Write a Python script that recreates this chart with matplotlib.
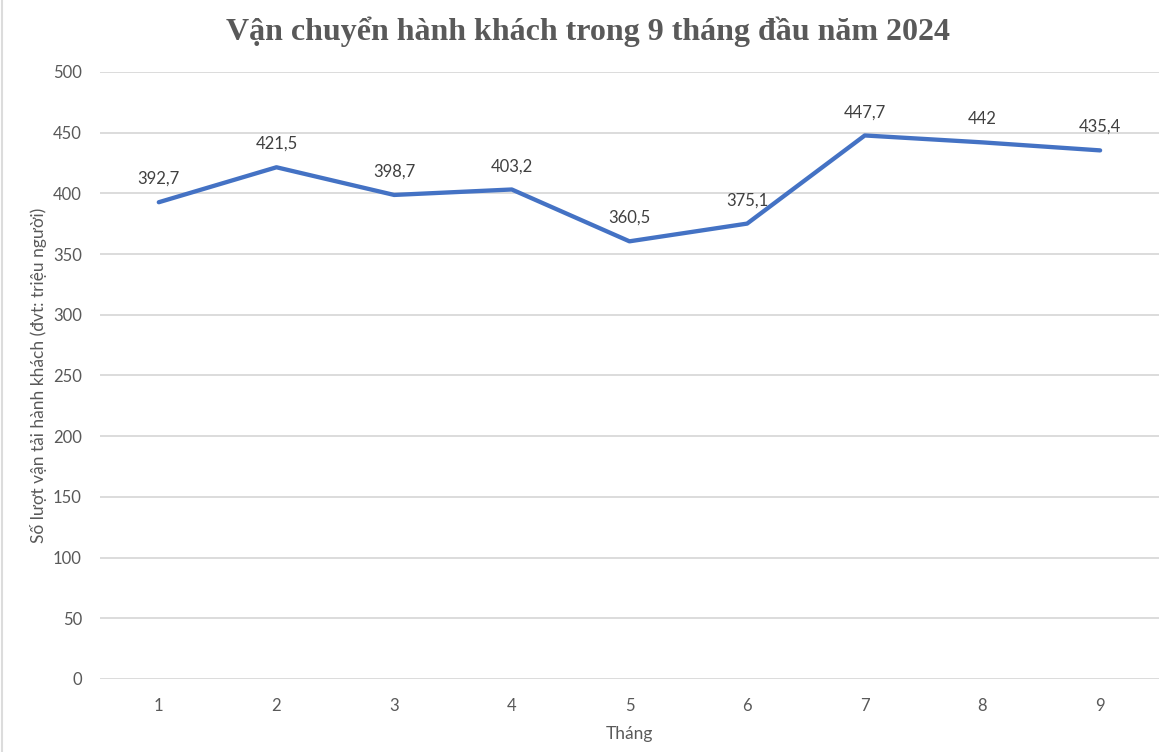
import matplotlib.pyplot as plt
from matplotlib.lines import Line2D

# Data
months = [1, 2, 3, 4, 5, 6, 7, 8, 9]
passengers = [392.7, 421.5, 398.7, 403.2, 360.5, 375.1, 447.7, 442, 435.4]
value_labels = ["392,7", "421,5", "398,7", "403,2", "360,5", "375,1", "447,7", "442", "435,4"]
y_ticks = [0, 50, 100, 150, 200, 250, 300, 350, 400, 450, 500]

text_color = '#595959'
plt.rcParams['font.family'] = ['Lato', 'DejaVu Sans']

fig = plt.figure(figsize=(11.76, 7.52), dpi=100)
ax = fig.add_axes([0.085, 0.0971, 0.9005, 0.8072])

ax.plot(months, passengers, color='#4472C4', linewidth=3.1, solid_capstyle='round',
        solid_joinstyle='round', zorder=3)

# Data labels above each point
for m, v, lab in zip(months, passengers, value_labels):
    ax.annotate(lab, (m, v), xytext=(0, 11), textcoords='offset points',
                ha='center', va='bottom', fontsize=12, color='#404040')

ax.set_xlim(0.5, 9.5)
ax.set_ylim(0, 500)
ax.set_xticks(months)
ax.set_yticks(y_ticks)
ax.grid(axis='y', color='#d9d9d9', linewidth=1.3)
ax.set_axisbelow(True)
for s in ax.spines.values():
    s.set_visible(False)
ax.tick_params(length=0, labelsize=12, labelcolor=text_color, pad=14)
ax.tick_params(axis='y', pad=13)

ax.set_xlabel("Tháng", fontsize=12.5, color=text_color, labelpad=8)
ax.set_ylabel("Số lượt vận tải hành khách (đvt: triệu người)", fontsize=12.5,
              color=text_color, labelpad=4)

fig.suptitle("Vận chuyển hành khách trong 9 tháng đầu năm 2024", y=0.978,
             fontsize=23, fontweight='bold', color=text_color,
             family=['Liberation Serif', 'DejaVu Serif'])

# thin border on the left edge like the screenshot
fig.add_artist(Line2D([0.002, 0.002], [0, 1], transform=fig.transFigure,
                      color='#dcdcdc', linewidth=1.5))

fig.savefig("out.png", dpi=100)
